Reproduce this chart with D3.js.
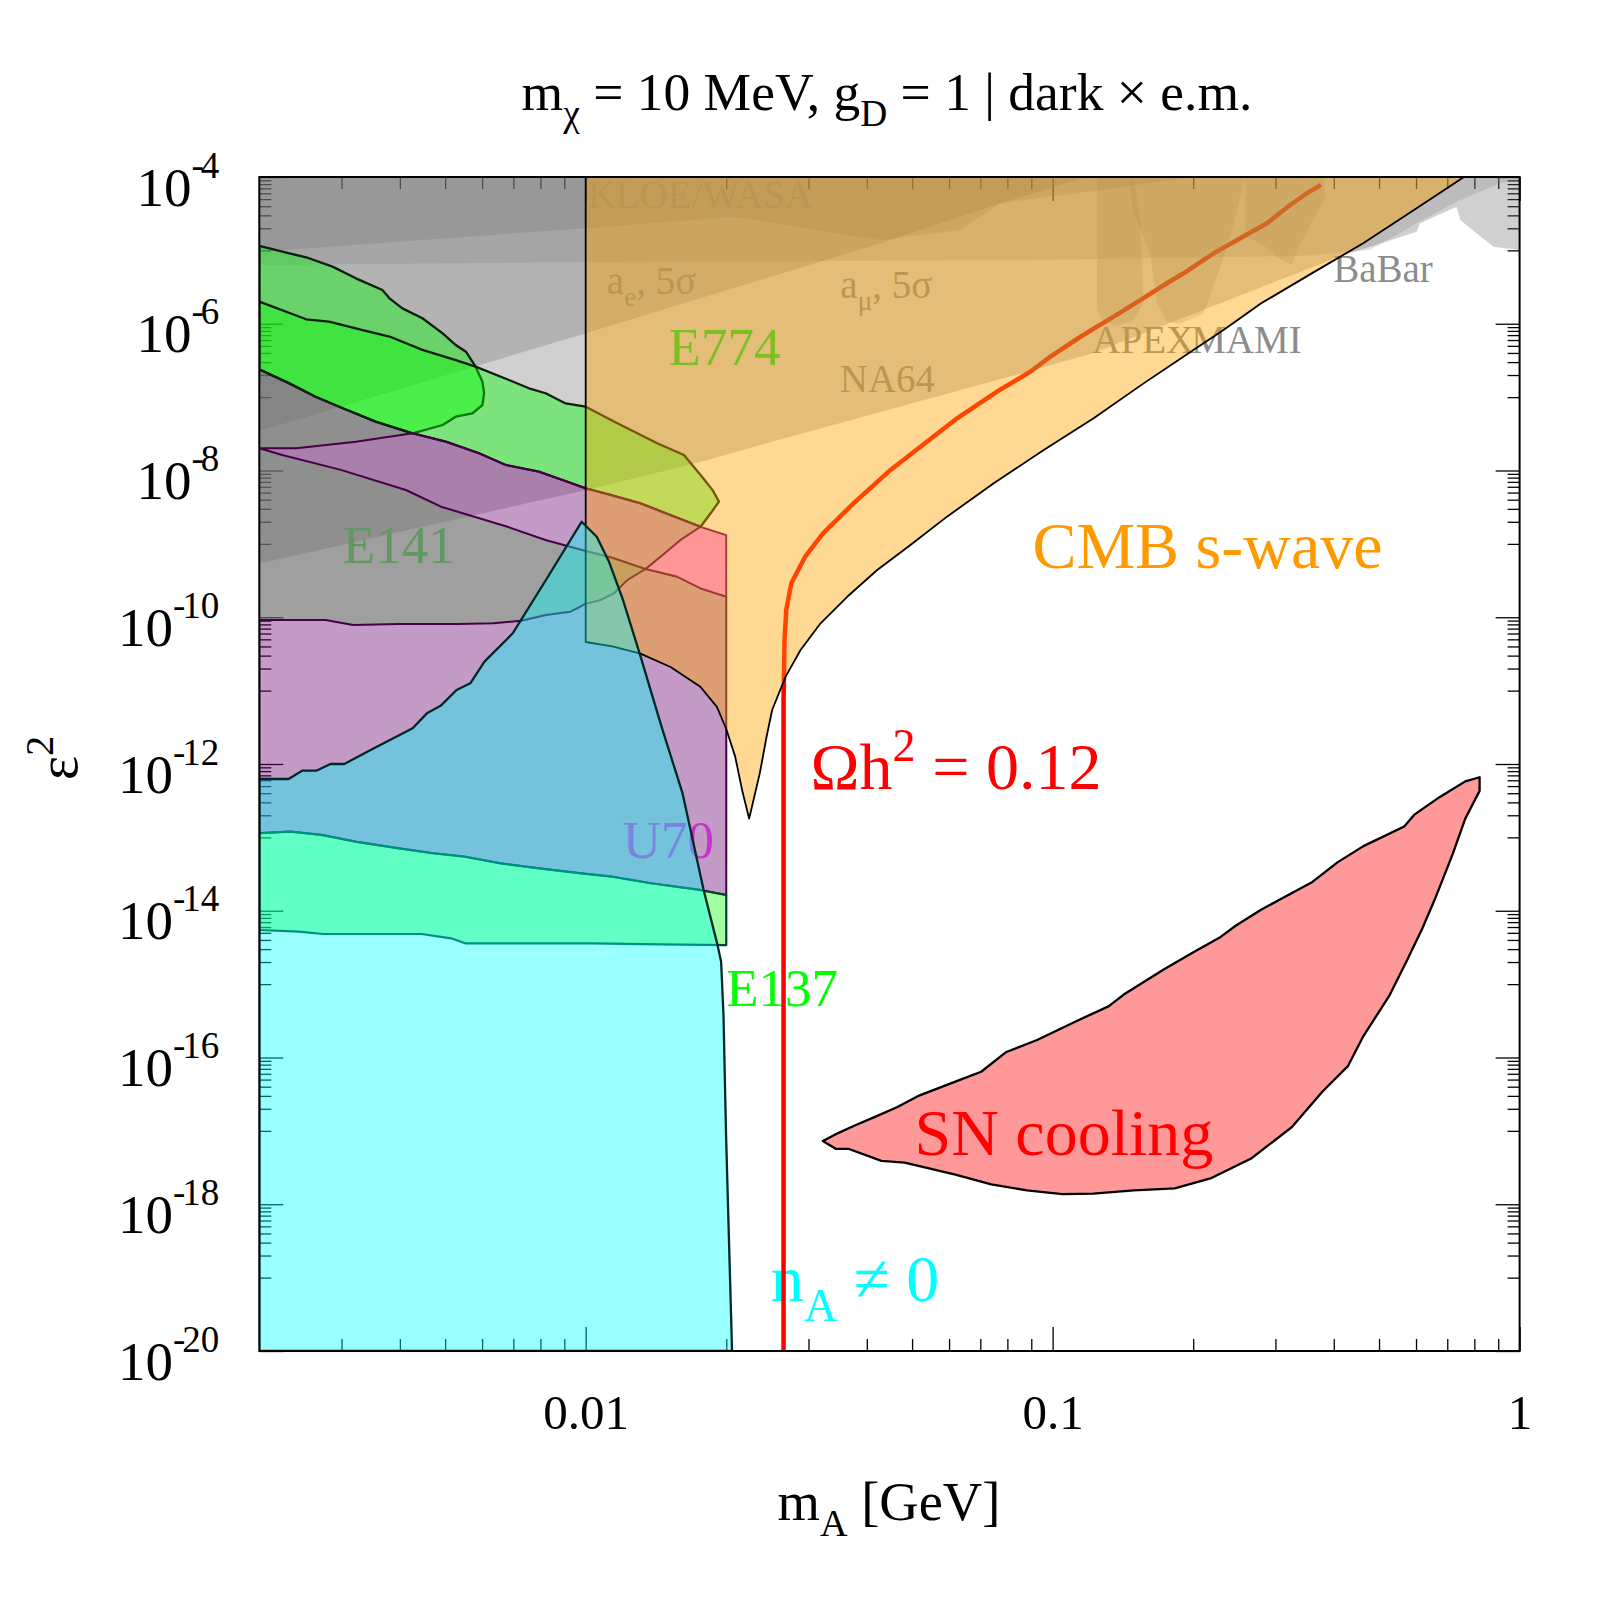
<!DOCTYPE html>
<html lang="en">
<head>
<meta charset="utf-8">
<title>Dark photon bounds, m_chi = 10 MeV</title>
<script src="https://cdn.jsdelivr.net/npm/d3@7"></script>
<style>
  body { margin: 0; background: #fff; }
  svg { display: block; }
  text { white-space: pre; }
</style>
</head>
<body>
<script>

// ---- data: [m_A in GeV, eps^2] ----

// grey constraints (drawn as "everything above the edge")
var na64Edge = [[0.002,5.4e-10],[0.01,5.4e-9],[0.01762,1.31e-8],[0.02368,2.23e-8],[0.0882,2.22e-7],[0.1222,3.99e-7],[0.409,8.1e-6],[0.602,1.8e-5],[0.612,2.34e-5],[0.733,3.94e-5],[0.746,2.6e-5],[0.879,1.12e-5],[1,1.01e-5]];
var aeEdge = [[0.002,3.45e-8],[0.00577,2.6e-7],[0.01,7.4e-7],[0.0428,1.25e-5],[0.0773,4.4e-5],[0.1187,1e-4]];
var amuEdge = [[0.002,6.3e-6],[0.01,6.95e-6],[0.0896,7.4e-6],[0.339,8.4e-6],[0.478,1.01e-5],[0.602,2.34e-5],[0.733,4.6e-5],[0.908,8.2e-5],[1,9.1e-5]];
var kloeEdge = [[0.002,9.6e-6],[0.01,2.0e-5],[0.0207,2.88e-5],[0.0428,1.38e-5],[0.0635,1.9e-5],[0.0773,4.4e-5],[0.1265,6.65e-5],[0.2,1e-4]];
var apexArea = [[0.1245,1e-4],[0.1245,1.54e-6],[0.1285,1.07e-6],[0.1373,9.3e-7],[0.1491,1.12e-6],[0.1565,1.9e-6],[0.154,2.6e-5],[0.1491,1e-4]];
var mamiArea = [[0.1455,1e-4],[0.1491,3.2e-5],[0.1618,9.1e-6],[0.1673,1.9e-6],[0.1757,1.07e-6],[0.1876,9.9e-7],[0.2104,1.39e-6],[0.2248,4.4e-6],[0.24,1.53e-5],[0.2585,1e-4]];
var kloeHighArea = [[0.2585,1e-4],[0.38,1e-4],[0.3833,5.4e-5],[0.3613,2.6e-5],[0.3334,1.01e-5],[0.3253,6.3e-6],[0.302,8.05e-6],[0.2828,1.18e-5],[0.2585,1.53e-5]];

// beam dump boundaries
var lobeEdge = [[0.002,1.15e-5],[0.00232,9.1e-6],[0.00252,8.05e-6],[0.00287,6.0e-6],[0.00322,4.16e-6],[0.00367,2.88e-6],[0.0038,2.22e-6],[0.00405,1.62e-6],[0.00447,1.19e-6],[0.00494,7.41e-7],[0.00527,5.13e-7],[0.00554,4.16e-7],[0.00581,2.6e-7],[0.00601,1.62e-7],[0.00606,1.13e-7],[0.00601,7.81e-8],[0.00572,6.02e-8],[0.00527,5.41e-8],[0.00494,4.17e-8],[0.00426,3.21e-8]];
var greenTop = [[0.002,2.0e-6],[0.00252,1.15e-6],[0.00282,1.07e-6],[0.00333,8.2e-7],[0.0038,6.7e-7],[0.00447,4.4e-7],[0.00527,3.2e-7],[0.00581,2.6e-7],[0.00685,1.71e-7],[0.00756,1.32e-7],[0.00821,1.13e-7],[0.00906,8.2e-8],[0.01,7.4e-8],[0.01169,4.4e-8],[0.01423,2.35e-8],[0.01623,1.63e-8],[0.01762,8.7e-9],[0.0187,5.4e-9],[0.01929,3.76e-9],[0.01852,2.61e-9],[0.01762,1.71e-9]];
var greenBottom = [[0.002,2.39e-7],[0.00232,1.54e-7],[0.00264,1.01e-7],[0.00302,7.04e-8],[0.00355,4.63e-8],[0.00426,3.21e-8],[0.00502,2.47e-8],[0.00591,1.72e-8],[0.00674,1.19e-8],[0.00794,9.63e-9],[0.00892,7.42e-9],[0.01,5.72e-9],[0.01131,4.64e-9],[0.01311,3.57e-9],[0.0152,2.47e-9],[0.01762,1.71e-9],[0.02,1.32e-9]];
var wedgeTop = [[0.002,2.01e-8],[0.0024,2.01e-8],[0.00322,2.47e-8],[0.00426,3.21e-8]];
var bandLower = [[0.002,2.01e-8],[0.00224,1.63e-8],[0.00299,1.02e-8],[0.00412,5.42e-9],[0.0049,3.21e-9],[0.0068,1.71e-9],[0.0082,1.13e-9],[0.01,8.0e-10],[0.01131,6.56e-10],[0.01344,4.55e-10],[0.01571,3.57e-10],[0.01762,2.48e-10],[0.02,1.91e-10]];
var u70Top = [[0.002,9.17e-11],[0.00277,9.17e-11],[0.00318,7.84e-11],[0.00398,8.09e-11],[0.00534,8.09e-11],[0.00634,8.27e-11],[0.00728,8.97e-11],[0.00822,1.07e-10],[0.00928,1.19e-10],[0.01,1.52e-10],[0.01077,1.72e-10],[0.0115,2.12e-10],[0.01228,3.22e-10],[0.01344,4.55e-10],[0.01447,6.69e-10],[0.01597,1.13e-9],[0.01762,1.71e-9]];
var e137Top = [[0.002,1.14e-13],[0.00233,1.2e-13],[0.00272,1.08e-13],[0.00323,8.7e-14],[0.00398,7.1e-14],[0.00469,6.1e-14],[0.00552,5.45e-14],[0.00657,4.43e-14],[0.00794,3.79e-14],[0.00977,3.24e-14],[0.01141,2.91e-14],[0.0138,2.37e-14],[0.01758,1.92e-14],[0.02,1.64e-14]];
var e137Bottom = [[0.002,5.47e-15],[0.00243,5.18e-15],[0.00274,4.82e-15],[0.00445,4.82e-15],[0.00515,4.21e-15],[0.00552,3.6e-15],[0.0103,3.6e-15],[0.01453,3.49e-15],[0.02,3.41e-15]];

// where the boundaries above meet
var lobeJoin = 0.00426, tipJoin = 0.01762, crossJoin = 0.01344;

var nonZeroArea = [[0.002,1e-20],[0.002,6.25e-13],[0.00231,6.25e-13],[0.00247,8.1e-13],[0.00265,8.1e-13],[0.00284,1.0e-12],[0.00304,1.0e-12],[0.00352,1.64e-12],[0.00426,3.07e-12],[0.00457,4.9e-12],[0.00489,6.2e-12],[0.00529,1.02e-11],[0.00566,1.26e-11],[0.00607,2.48e-11],[0.00697,6.0e-11],[0.00822,3.22e-10],[0.0098,2.0e-9],[0.01056,1.25e-9],[0.01122,5.7e-10],[0.01202,1.72e-10],[0.01311,2.9e-11],[0.01454,3.2e-12],[0.01612,4.0e-13],[0.01789,1.92e-14],[0.01916,3.4e-15],[0.0195,2.02e-15],[0.01973,3.7e-16],[0.01998,8.8e-18],[0.02058,1e-20]];

var cmbArea = [[0.01,1e-4],[0.01,4.6e-11],[0.0114,4.0e-11],[0.0131,3.2e-11],[0.0152,2.1e-11],[0.0176,1.13e-11],[0.0191,6.0e-12],[0.02,3.0e-12],[0.0209,1.26e-12],[0.02163,4.4e-13],[0.02239,1.8e-13],[0.0236,7.5e-13],[0.02439,2.33e-12],[0.02508,5.45e-12],[0.0268,1.55e-11],[0.02885,3.58e-11],[0.03184,8.27e-11],[0.03631,1.9e-10],[0.0421,4.4e-10],[0.0496,9.65e-10],[0.0594,2.35e-9],[0.0748,6.69e-9],[0.0957,1.9e-8],[0.1224,5.14e-8],[0.1566,1.54e-7],[0.2002,4.39e-7],[0.2322,8.2e-7],[0.2797,1.9e-6],[0.3596,4.9e-6],[0.4624,1.25e-5],[0.594,3.55e-5],[0.76,1e-4]];

var relicLine = [[0.02653,1e-20],[0.02653,7.4e-12],[0.02666,4.9e-11],[0.02689,1.26e-10],[0.02757,2.9e-10],[0.02951,6.7e-10],[0.03222,1.39e-9],[0.03746,3.57e-9],[0.04496,1.02e-8],[0.06243,5.14e-8],[0.076,1.19e-7],[0.0896,2.22e-7],[0.0989,3.56e-7],[0.1147,6.65e-7],[0.1351,1.25e-6],[0.1541,2.1e-6],[0.1757,3.56e-6],[0.1907,4.87e-6],[0.2211,9.1e-6],[0.2522,1.46e-5],[0.2876,2.34e-5],[0.3227,4.15e-5],[0.3502,6.0e-5],[0.3758,7.8e-5]];

var snArea = [[0.0322,7.3e-18],[0.0343,5.7e-18],[0.0365,5.7e-18],[0.043,3.9e-18],[0.0482,3.7e-18],[0.0619,2.54e-18],[0.0739,1.86e-18],[0.0881,1.55e-18],[0.105,1.37e-18],[0.1222,1.4e-18],[0.1493,1.55e-18],[0.1826,1.65e-18],[0.2177,2.25e-18],[0.2662,4.2e-18],[0.3254,1.13e-17],[0.3784,3.44e-17],[0.4293,7.7e-17],[0.4629,1.96e-16],[0.525,6.8e-16],[0.573,2.07e-15],[0.6179,5.6e-15],[0.658,1.42e-14],[0.7189,5.9e-14],[0.765,1.8e-13],[0.821,4.3e-13],[0.821,6.6e-13],[0.765,5.8e-13],[0.675,3.56e-13],[0.595,2.04e-13],[0.566,1.41e-13],[0.4629,7.6e-14],[0.408,4.6e-14],[0.36,2.47e-14],[0.3174,1.6e-14],[0.28,1.04e-14],[0.247,6.3e-15],[0.229,4.4e-15],[0.2019,2.8e-15],[0.1736,1.61e-15],[0.142,7.2e-16],[0.1317,4.97e-16],[0.1132,3.2e-16],[0.0926,1.73e-16],[0.0796,1.19e-16],[0.0703,6.4e-17],[0.0635,5.0e-17],[0.0519,3.05e-17],[0.0464,2.1e-17],[0.0414,1.53e-17],[0.0379,1.2e-17],[0.0348,9.4e-18]];

// tick values
var xMajor = [0.01, 0.1, 1];
var yMajor = [1e-4, 1e-6, 1e-8, 1e-10, 1e-12, 1e-14, 1e-16, 1e-18, 1e-20];

// labels under the CMB overlay: text pieces and anchor point [m, eps^2]
var greyLabels = [
  {parts: [["KLOE/WASA"]], at: [0.0101, 3.78e-5]},
  {parts: [["a"], ["e", "sub"], [", 5σ"]], at: [0.0111, 2.54e-6]},
  {parts: [["a"], ["μ", "sub"], [", 5σ"]], at: [0.0351, 2.24e-6]},
  {parts: [["NA64"]], at: [0.035, 1.19e-7]},
  {parts: [["APEX"]], at: [0.1216, 3.99e-7]},
  {parts: [["MAMI"]], at: [0.198, 3.99e-7]},
  {parts: [["BaBar"]], at: [0.3988, 3.71e-6]}
];

(function() {

var w = 1600, h = 1600;
var x0 = 259.3, x1 = 1519.6, y0 = 177, y1 = 1351;
var serif = "'Liberation Serif', 'Times New Roman', Times, serif";

var xScale = d3.scaleLog().domain([0.002, 1]).range([x0, x1]);
var yScale = d3.scaleLog().domain([1e-20, 1e-4]).range([y1, y0]);

var svg = d3.select("body").append("svg")
            .attr("width", w)
            .attr("height", h)
            .style("font-family", serif);

svg.append("defs").append("clipPath").attr("id", "plotclip")
   .append("rect")
   .attr("x", x0).attr("y", y0)
   .attr("width", x1 - x0).attr("height", y1 - y0);

var line = d3.line()
             .x(function(d) { return xScale(d[0]); })
             .y(function(d) { return yScale(d[1]); });

//Ticks first, the translucent regions tint them
var xMinor = [], yMinor = [];
[0.001, 0.01, 0.1].forEach(function(dec) {
  for (var k = 2; k <= 9; k++) { if (k * dec > 0.0021) xMinor.push(k * dec); }
});
yMajor.slice(0, -1).forEach(function(v) {
  for (var k = 1; k <= 9; k++) { yMinor.push(k * v / 10); }
});

function tickAxis(axis, transform) {
  var g = svg.append("g").attr("transform", transform).call(axis);
  g.select(".domain").remove();
  g.selectAll(".tick line").attr("stroke", "#000").attr("stroke-width", 1.3);
  g.attr("font-family", serif).attr("font-size", 55);
  return g;
}

var gLeft = tickAxis(d3.axisLeft(yScale).tickValues(yMajor).tickSize(-24).tickPadding(40), "translate(" + x0 + ",0)");
tickAxis(d3.axisLeft(yScale).tickValues(yMinor).tickSize(-12).tickFormat(""), "translate(" + x0 + ",0)");
tickAxis(d3.axisRight(yScale).tickValues(yMajor).tickSize(-24).tickFormat(""), "translate(" + x1 + ",0)");
tickAxis(d3.axisRight(yScale).tickValues(yMinor).tickSize(-12).tickFormat(""), "translate(" + x1 + ",0)");
var gBottom = tickAxis(d3.axisBottom(xScale).tickValues(xMajor).tickSize(-24).tickFormat(function(d) { return String(d); }), "translate(0," + y1 + ")");
tickAxis(d3.axisBottom(xScale).tickValues(xMinor).tickSize(-12).tickFormat(""), "translate(0," + y1 + ")");
tickAxis(d3.axisTop(xScale).tickValues(xMajor).tickSize(-24).tickFormat(""), "translate(0," + y0 + ")");
tickAxis(d3.axisTop(xScale).tickValues(xMinor).tickSize(-12).tickFormat(""), "translate(0," + y0 + ")");

//10 with a raised exponent and a short minus
gLeft.selectAll(".tick text").each(function(d) {
  var t = d3.select(this).text(null).attr("dy", null).attr("y", 28).attr("fill", "#000");
  t.append("tspan").text("10");
  t.append("tspan").attr("dy", -28).attr("font-size", 37).text("-");
  t.append("tspan").attr("dx", -3).attr("font-size", 37).text(Math.abs(Math.round(Math.log10(d))));
});
gBottom.selectAll(".tick text").attr("dy", null).attr("y", 78).attr("fill", "#000").attr("font-size", 49);

// text with sub/superscripts
function richText(parent, x, y, parts, size, color, anchor) {
  var t = parent.append("text")
                .attr("x", x).attr("y", y)
                .attr("font-size", size)
                .attr("fill", color)
                .attr("text-anchor", anchor || "start");
  var shift = 0;
  parts.forEach(function(p) {
    var off = p[1] === "sub" ? size * 0.3 : (p[1] === "sup" ? -size * 0.42 : 0);
    t.append("tspan")
     .attr("dy", off - shift)
     .attr("font-size", p[1] ? size * 0.7 : size)
     .text(p[0]);
    shift = off;
  });
  return t;
}
function labelAt(parent, at, parts, size, color) {
  return richText(parent, xScale(at[0]), yScale(at[1]), parts, size, color);
}

var plot = svg.append("g").attr("clip-path", "url(#plotclip)");

function region(pts, fill, stroke, sw) {
  return plot.append("path")
             .attr("d", line(pts) + "Z")
             .attr("fill", fill)
             .attr("stroke", stroke || "none")
             .attr("stroke-width", sw || 0)
             .attr("stroke-linejoin", "round");
}
function above(edge) {
  var last = edge[edge.length - 1];
  return edge.concat([[last[0], 1e-4], [edge[0][0], 1e-4]]);
}
function upTo(arr, m) { return arr.filter(function(p) { return p[0] <= m; }); }
function from(arr, m) { return arr.filter(function(p) { return p[0] >= m; }); }
function rev(arr) { return arr.slice().reverse(); }

//labels that sit below the red line
labelAt(plot, [0.02, 5.04e-16], [["E137"]], 53, "rgb(0,255,0)");
labelAt(plot, [0.0249, 4.8e-20], [["n"], ["A", "sub"], [" ≠ 0"]], 66, "rgb(0,255,255)");

//relic density line
plot.append("path")
    .attr("d", line(relicLine))
    .attr("fill", "none")
    .attr("stroke", "rgb(255,0,0)")
    .attr("stroke-width", 4.5);

//grey constraints
var grey = "rgba(110,110,110,";
region(above(na64Edge), grey + "0.324)");
region(above(aeEdge), grey + "0.296)");
region(above(amuEdge), grey + "0.2)");
region(above(kloeEdge), grey + "0.22)");
region(apexArea, grey + "0.2)");
region(mamiArea, grey + "0.2)");
region(kloeHighArea, grey + "0.2)");
region(upTo(greenBottom, lobeJoin).concat(rev(wedgeTop.slice(0, -1))), grey + "0.66)");
region(upTo(bandLower, crossJoin).concat(rev(upTo(u70Top, crossJoin))), grey + "0.66)");

greyLabels.forEach(function(l) { labelAt(plot, l.at, l.parts, 39, "rgb(140,140,140)"); });

//green beam dump regions
var green = "rgba(0,255,0,0.4)";
region(lobeEdge.concat(rev(upTo(greenBottom, lobeJoin).slice(0, -1))), green, "rgb(15,30,15)", 2.3);
region(greenTop.concat(rev(upTo(greenBottom, tipJoin).slice(0, -1))), green, "rgb(15,30,15)", 2.3);

//purple regions
var purple = "rgba(115,15,120,0.42)";
var bandPts = wedgeTop
  .concat(greenBottom.filter(function(p) { return p[0] > lobeJoin && p[0] <= tipJoin; }))
  .concat(rev(u70Top.filter(function(p) { return p[0] >= crossJoin && p[0] < tipJoin; })))
  .concat(rev(bandLower.filter(function(p) { return p[0] < crossJoin; })));
region(bandPts, purple, "rgb(70,0,70)", 2);
var blockPts = upTo(u70Top, crossJoin)
  .concat(bandLower.filter(function(p) { return p[0] > crossJoin; }))
  .concat(rev(e137Top));
region(blockPts, purple, "rgb(70,0,70)", 2);

//E137
region(e137Top.concat(rev(e137Bottom)), "rgba(0,255,0,0.37)", "rgb(0,70,40)", 2.2);

labelAt(plot, [0.012, 5.24e-14], [["U70"]], 53, "rgb(200,50,200)");

//CMB s-wave
region(cmbArea, "rgba(255,165,0,0.42)", "#000", 1.8);

//the pink patch between the purple bands
var pinkPts = from(greenBottom, tipJoin)
  .concat(rev(from(bandLower, crossJoin)))
  .concat(u70Top.filter(function(p) { return p[0] > crossJoin && p[0] < tipJoin; }));
region(pinkPts, "rgb(255,150,150)", "rgb(150,60,50)", 1.8);

//n_A != 0
region(nonZeroArea, "rgba(0,255,255,0.4)", "rgb(0,40,40)", 2.3);

//SN cooling
region(snArea, "rgba(255,0,0,0.4)", "#000", 2.3);

//labels on top
labelAt(plot, [0.01505, 2.74e-7], [["E774"]], 53, "rgb(125,190,35)");
labelAt(plot, [0.00302, 5.43e-10], [["E141"]], 53, "rgb(96,152,96)");
labelAt(plot, [0.0905, 4.69e-10], [["CMB s-wave"]], 66, "rgb(255,153,0)");
labelAt(plot, [0.0303, 4.56e-13], [["Ωh"], ["2", "sup"], [" = 0.12"]], 66, "rgb(255,0,0)");
labelAt(plot, [0.0506, 4.69e-18], [["SN cooling"]], 66, "rgb(255,0,0)");

//frame
svg.append("rect")
   .attr("x", x0).attr("y", y0)
   .attr("width", x1 - x0).attr("height", y1 - y0)
   .attr("fill", "none")
   .attr("stroke", "#000")
   .attr("stroke-width", 2);

//title and axis titles
richText(svg, 887, 110, [["m"], ["χ", "sub"], [" = 10 MeV, g"], ["D", "sub"], [" = 1 | dark × e.m."]], 53.5, "#000", "middle");
richText(svg, 889, 1520, [["m"], ["A", "sub"], [" [GeV]"]], 54.5, "#000", "middle");
richText(svg.append("g").attr("transform", "translate(77,758) rotate(-90)"), 0, 0, [["ε"], ["2", "sup"]], 58, "#000", "middle");

})();

</script>
</body>
</html>
